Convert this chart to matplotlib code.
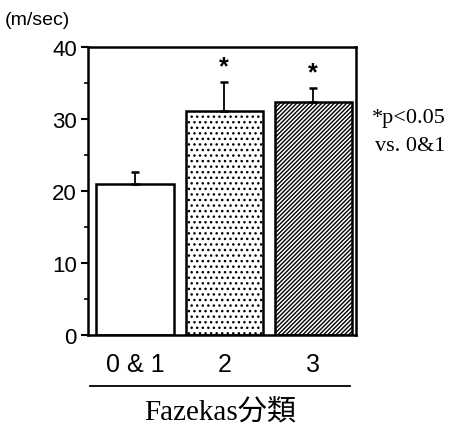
import matplotlib
matplotlib.use('Agg')
import matplotlib.pyplot as plt
from matplotlib.ticker import MultipleLocator

# values
grupos = ["0 & 1", "2", "3"]
medias = [21.0, 31.1, 32.3]
errores = [1.6, 4.1, 2.0]
tramas = ["", "...", "////////"]
marcas = ["", "*", "*"]

plt.rcParams['hatch.linewidth'] = 1.0

fig = plt.figure(figsize=(4.5, 4.27), dpi=100)
ax = fig.add_axes([0.1956, 0.2131, 0.5955, 0.6745])

x = list(range(len(grupos)))
barras = ax.bar(x, medias, width=0.87, color="white", edgecolor="black",
                linewidth=1.8, zorder=2)
for barra, trama in zip(barras, tramas):
    barra.set_hatch(trama)

# one sided error bars
ax.errorbar(x, medias, yerr=[[0] * len(errores), errores], fmt="none",
            ecolor="black", elinewidth=1.3, capsize=3, capthick=1.8, zorder=3)

for xi, m, e, s in zip(x, medias, errores, marcas):
    if s:
        ax.text(xi, m + e + 0.5, s, ha="center", va="bottom", fontsize=18,
                fontweight="bold", family="Liberation Sans")

ax.set_xlim(-0.53, 2.48)
ax.set_ylim(0, 40)
ax.yaxis.set_major_locator(MultipleLocator(10))
ax.yaxis.set_minor_locator(MultipleLocator(5))
ax.set_xticks(x)
ax.set_xticklabels(grupos, fontsize=18, family="Liberation Sans")
for lab in ax.get_yticklabels():
    lab.set_fontsize(16)
    lab.set_family("Liberation Sans")
ax.get_yticklabels()[0].set_fontsize(13)
ax.tick_params(axis="x", length=0, pad=12)
ax.tick_params(axis="y", which="major", length=5, width=1.5, direction="out", pad=3)
ax.tick_params(axis="y", which="minor", length=3, width=1.2, direction="out")
for s in ax.spines.values():
    s.set_linewidth(1.8)

# line under the group labels
ax.plot([0.007, 0.978], [-0.177, -0.177], color="black", lw=1.3,
        transform=ax.transAxes, clip_on=False)

fig.text(0.489, 0.035, "Fazekas分類", ha="center", va="center", fontsize=21,
         family=["Liberation Serif", "Noto Sans CJK JP"])
fig.text(0.01, 0.953, "(m/sec)", ha="left", va="center", fontsize=14,
         family="Liberation Sans")
fig.text(0.99, 0.722, "*p<0.05", ha="right", va="center", fontsize=16,
         family="Liberation Serif")
fig.text(0.99, 0.658, "vs. 0&1", ha="right", va="center", fontsize=16,
         family="Liberation Serif")

plt.savefig("out.png", dpi=100)
plt.close()
